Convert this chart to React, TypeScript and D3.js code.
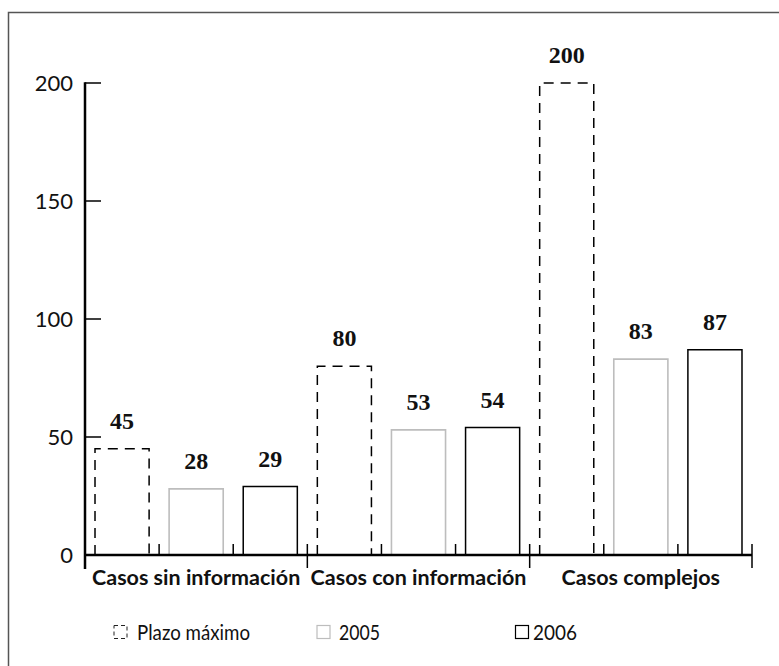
import * as d3 from "d3";

const categories = ["Casos sin información", "Casos con información", "Casos complejos"];
const seriesNames = ["Plazo máximo", "2005", "2006"];
const plazoMaximo = [45, 80, 200];
const values2005 = [28, 53, 83];
const values2006 = [29, 54, 87];
const yTicks = [0, 50, 100, 150, 200];

const W = 779;
const H = 666;
const margin = { left: 85, right: 27, top: 83, bottom: 111 };

const App = () => {
  const x = d3.scaleBand<string>()
    .domain(categories)
    .range([margin.left, W - margin.right]);
  const xIn = d3.scaleBand<string>()
    .domain(seriesNames)
    .range([0, x.bandwidth()])
    .paddingInner(0.27)
    .paddingOuter(0.135);
  const y = d3.scaleLinear().domain([0, 200]).range([H - margin.bottom, margin.top]);
  const base = y(0);
  const step = xIn.step();

  const series = [plazoMaximo, values2005, values2006];
  const strokes = ["#000", "#bdbdbd", "#000"];

  const sans = "Lato, 'Open Sans', sans-serif";
  const serif = "'Liberation Serif', 'DejaVu Serif', serif";

  return (
    <svg width={W} height={H} style={{ position: "absolute", left: 0, top: 0, background: "#fff" }}>
      {/* frame */}
      <path d={`M8.5,${H} V12.5 H${W}`} fill="none" stroke="#555" strokeWidth={1.5} />

      {/* bars */}
      {categories.map((c, ci) => (
        <g key={c}>
          {seriesNames.map((s, si) => {
            const v = series[si][ci];
            const x0 = (x(c) as number) + (xIn(s) as number);
            const bw = xIn.bandwidth();
            const top = y(v);
            return (
              <g key={s}>
                <path d={`M${x0},${base} V${top} H${x0 + bw} V${base}`} fill="none" stroke={strokes[si]}
                  strokeWidth={si === 1 ? 1.6 : 1.5}
                  strokeDasharray={si === 0 ? "10,7" : undefined} />
                <text x={x0 + bw / 2} y={top - 20} textAnchor="middle"
                  fontFamily={serif} fontWeight="bold" fontSize={24} fill="#111">{v}</text>
              </g>
            );
          })}
        </g>
      ))}

      {/* x axis */}
      <line x1={margin.left} x2={W - margin.right} y1={base} y2={base} stroke="#000" strokeWidth={2.5} />
      {categories.map((c) => {
        const gx = x(c) as number;
        return (
          <g key={"t" + c}>
            {[1, 2].map((i) => (
              <line key={i} x1={gx + i * step} x2={gx + i * step} y1={base} y2={base - 11}
                stroke="#000" strokeWidth={1.5} />
            ))}
            <line x1={gx + x.bandwidth()} x2={gx + x.bandwidth()} y1={base - 11} y2={base + 13}
              stroke="#000" strokeWidth={1.5} />
            <text x={gx + x.bandwidth() / 2} y={base + 30} textAnchor="middle"
              fontFamily={sans} fontWeight="bold" fontSize={21.5} fill="#111">{c}</text>
          </g>
        );
      })}

      {/* y axis */}
      <line x1={margin.left} x2={margin.left} y1={y(200) - 0.75} y2={base + 14} stroke="#000" strokeWidth={2.5} />
      {yTicks.map((t) => (
        <g key={"y" + t}>
          <line x1={margin.left} x2={margin.left + 16} y1={y(t)} y2={y(t)} stroke="#000" strokeWidth={1.5} />
          <text x={73} y={y(t) + 8} textAnchor="end" fontFamily={sans} fontSize={22} fill="#111">{t}</text>
        </g>
      ))}

      {/* legend */}
      <g transform="translate(0,632)">
        <rect x={114} y={-6.5} width={13} height={13} fill="none" stroke="#222" strokeWidth={1} strokeDasharray="4,3" />
        <text x={137} y={8} fontFamily={sans} fontSize={22} fill="#111" textLength={113} lengthAdjust="spacingAndGlyphs">{seriesNames[0]}</text>
        <rect x={317} y={-6.5} width={13} height={13} fill="none" stroke="#bdbdbd" strokeWidth={1.2} />
        <text x={339} y={8} fontFamily={sans} fontSize={22} fill="#111" textLength={41} lengthAdjust="spacingAndGlyphs">{seriesNames[1]}</text>
        <rect x={515.5} y={-6.5} width={13} height={13} fill="none" stroke="#000" strokeWidth={1.2} />
        <text x={533} y={8} fontFamily={sans} fontSize={22} fill="#111" textLength={44} lengthAdjust="spacingAndGlyphs">{seriesNames[2]}</text>
      </g>
    </svg>
  );
};

export default App;
